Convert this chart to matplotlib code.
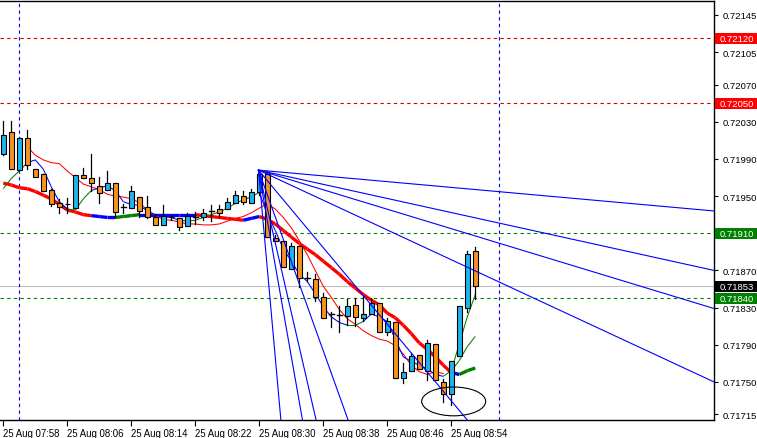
import matplotlib
matplotlib.use("Agg")
import matplotlib.pyplot as plt
import matplotlib.transforms as mtransforms
from matplotlib.patches import Rectangle, Ellipse

plt.rcParams['font.family'] = ['Liberation Sans', 'DejaVu Sans']

# one-minute bars, 25 Aug 07:58 .. 08:57
opens = [0.71995, 0.72019, 0.71978, 0.72012, 0.71979, 0.71974, 0.71957, 0.71943, 0.71942, 0.71937,
         0.71973, 0.71969, 0.71961, 0.71957, 0.71964, 0.71938, 0.71937, 0.71949, 0.71938, 0.71928,
         0.71919, 0.71928, 0.71926, 0.71918, 0.71927, 0.71928, 0.71934, 0.71936, 0.71936, 0.71943,
         0.71950, 0.71943, 0.71954, 0.71974, 0.71905, 0.71902, 0.71872, 0.71896, 0.71862, 0.71861,
         0.71841, 0.71823, 0.71822, 0.71821, 0.71833, 0.71819, 0.71823, 0.71835, 0.71804, 0.71815,
         0.71754, 0.71762, 0.71779, 0.71762, 0.71791, 0.71750, 0.71737, 0.71778, 0.71830, 0.71891]
highs = [0.72031, 0.72031, 0.72014, 0.72021, 0.71979, 0.71974, 0.71958, 0.71947, 0.71948, 0.71973,
         0.71980, 0.71995, 0.71971, 0.71977, 0.71964, 0.71941, 0.71961, 0.71949, 0.71950, 0.71931,
         0.71940, 0.71930, 0.71926, 0.71932, 0.71933, 0.71936, 0.71940, 0.71940, 0.71948, 0.71955,
         0.71955, 0.71958, 0.71977, 0.71977, 0.71908, 0.71902, 0.71899, 0.71896, 0.71868, 0.71866,
         0.71846, 0.71825, 0.71832, 0.71839, 0.71840, 0.71843, 0.71840, 0.71835, 0.71819, 0.71815,
         0.71770, 0.71781, 0.71779, 0.71795, 0.71791, 0.71753, 0.71773, 0.71832, 0.71891, 0.71895]
lows = [0.71994, 0.71979, 0.71977, 0.71979, 0.71971, 0.71956, 0.71939, 0.71932, 0.71932, 0.71937,
        0.71969, 0.71956, 0.71943, 0.71957, 0.71927, 0.71932, 0.71937, 0.71928, 0.71926, 0.71919,
        0.71919, 0.71924, 0.71913, 0.71918, 0.71920, 0.71924, 0.71923, 0.71928, 0.71936, 0.71943,
        0.71942, 0.71943, 0.71951, 0.71906, 0.71902, 0.71874, 0.71872, 0.71852, 0.71859, 0.71837,
        0.71819, 0.71809, 0.71804, 0.71811, 0.71810, 0.71816, 0.71823, 0.71804, 0.71801, 0.71754,
        0.71749, 0.71762, 0.71764, 0.71752, 0.71752, 0.71728, 0.71725, 0.71778, 0.71825, 0.71839]
closes = [0.72016, 0.71979, 0.72012, 0.71983, 0.71971, 0.71956, 0.71942, 0.71938, 0.71941, 0.71973,
          0.71969, 0.71964, 0.71953, 0.71964, 0.71933, 0.71938, 0.71955, 0.71934, 0.71927, 0.71919,
          0.71929, 0.71927, 0.71917, 0.71929, 0.71927, 0.71932, 0.71934, 0.71932, 0.71944, 0.71951,
          0.71944, 0.71954, 0.71974, 0.71906, 0.71902, 0.71874, 0.71896, 0.71862, 0.71862, 0.71841,
          0.71819, 0.71823, 0.71822, 0.71832, 0.71820, 0.71823, 0.71835, 0.71804, 0.71816, 0.71754,
          0.71761, 0.71778, 0.71764, 0.71792, 0.71752, 0.71737, 0.71773, 0.71832, 0.71888, 0.71853]

# slow MA (thick), colour of the segment ending at each bar: r=down, b=flat, g=up
slow_ma = [0.71964, 0.71962, 0.71959, 0.71958, 0.71955, 0.71951, 0.71947, 0.71941, 0.71935, 0.71933,
           0.71930, 0.71929, 0.71928, 0.71927, 0.71927, 0.71928, 0.71929, 0.71930, 0.71930, 0.71930,
           0.71930, 0.71930, 0.71930, 0.71930, 0.71930, 0.71929, 0.71928, 0.71927, 0.71926, 0.71925,
           0.71924, 0.71926, 0.71928, 0.71925, 0.71920, 0.71913, 0.71906, 0.71899, 0.71893, 0.71887,
           0.71880, 0.71873, 0.71866, 0.71858, 0.71851, 0.71844, 0.71838, 0.71833, 0.71824, 0.71819,
           0.71811, 0.71802, 0.71792, 0.71785, 0.71777, 0.71768, 0.71760, 0.71758, 0.71762, 0.71765]
slow_state = "rrrrrrrrrrrrbbbgggbbbbbbbrrrrrrbbrrrrrrrrrrrrrrrrrrrrrrrrbgg"

# mid MA (thin red), starts at bar 3 and ends at bar 55
mid_start = 3
mid_ma = [0.72003, 0.71994, 0.71989, 0.71986, 0.71985, 0.71977, 0.71970, 0.71963, 0.71960, 0.71957,
          0.71952, 0.71950, 0.71949, 0.71947, 0.71943, 0.71935, 0.71929, 0.71925, 0.71924, 0.71922,
          0.71920, 0.71920, 0.71919, 0.71919, 0.71920, 0.71923, 0.71926, 0.71928, 0.71932, 0.71937,
          0.71942, 0.71936, 0.71927, 0.71916, 0.71902, 0.71887, 0.71870, 0.71853, 0.71841, 0.71828,
          0.71818, 0.71812, 0.71805, 0.71800, 0.71796, 0.71794, 0.71789, 0.71780, 0.71768, 0.71761,
          0.71758, 0.71761, 0.71759]

# fast MA (thin), g=rising, b=falling
fast_ma = [0.71958, 0.71969, 0.71977, 0.71986, 0.71989, 0.71979, 0.71960, 0.71944, 0.71936, 0.71935,
           0.71947, 0.71956, 0.71959, 0.71961, 0.71956, 0.71944, 0.71941, 0.71940, 0.71934, 0.71930,
           0.71928, 0.71927, 0.71924, 0.71923, 0.71924, 0.71927, 0.71930, 0.71933, 0.71937, 0.71942,
           0.71946, 0.71949, 0.71954, 0.71931, 0.71913, 0.71893, 0.71880, 0.71866, 0.71858, 0.71845,
           0.71831, 0.71820, 0.71814, 0.71811, 0.71811, 0.71815, 0.71823, 0.71820, 0.71815, 0.71796,
           0.71777, 0.71772, 0.71768, 0.71764, 0.71758, 0.71756, 0.71762, 0.71773, 0.71788, 0.71799]
fast_state = "ggggbbbbbgggbbbbbbbbbbbbgggggggggbbbbbbbbbbbggbbbbbbbbbbgggg"

# very fast line, only the last bars
vfast_start = 56
vfast_ma = [0.71762, 0.71791, 0.71820, 0.71844]

# Gann fan: origin (bar, price) and points the rays pass through
fan_origin = (31.9, 0.71978)
fan_points = [(88.84, 0.71934), (88.84, 0.71870), (88.84, 0.71829), (88.84, 0.71750),
              (58.0, 0.71709), (43.1, 0.71709), (39.1, 0.71709), (37.4, 0.71709), (34.7, 0.71709)]

red_levels = [0.72120, 0.72050]
green_levels = [0.71910, 0.71840]
bid_price = 0.71853
vlines_bar = [2, 62]
ellipse_center = (56.3, 0.71729)
ellipse_size = (8.0, 0.00031)

time_ticks = [0, 8, 16, 24, 32, 40, 48, 56]
time_labels = ["25 Aug 07:58", "25 Aug 08:06", "25 Aug 08:14", "25 Aug 08:22",
               "25 Aug 08:30", "25 Aug 08:38", "25 Aug 08:46", "25 Aug 08:54"]
price_ticks = [0.72145, 0.72105, 0.72070, 0.72030, 0.71990, 0.71950, 0.71910,
               0.71870, 0.71830, 0.71790, 0.71750, 0.71715]

BULL = "#1eb4ec"
BEAR = "#f7931e"
ma_colors = {"r": "#ff0000", "b": "#0000ff", "g": "#008000"}

fig = plt.figure(figsize=(7.57, 4.39), dpi=100)
ax = fig.add_axes([0, 1 - 421 / 439, 714 / 757, 419 / 439])
ax.set_xlim(-0.41, 88.84)
ax.set_ylim(0.71709, 0.72160)

# levels
for lv in red_levels:
    ax.axhline(lv, color="#d00000", lw=0.8, dashes=(3, 3), zorder=1)
for lv in green_levels:
    ax.axhline(lv, color="#008000", lw=0.8, dashes=(3, 3), zorder=1)
ax.axhline(bid_price, color="#c0c0c0", lw=0.8, zorder=1)
for vb in vlines_bar:
    ax.axvline(vb, color="#0000ff", lw=0.8, dashes=(3, 3), zorder=1)

# indicators
def colored_line(start, values, states, lw):
    for i in range(1, len(values)):
        ax.plot([start + i - 1, start + i], [values[i - 1], values[i]],
                color=ma_colors[states[i]], lw=lw, solid_capstyle="butt", zorder=2)

colored_line(0, slow_ma, slow_state, 2.4)
ax.plot(range(mid_start, mid_start + len(mid_ma)), mid_ma, color="#ff0000", lw=0.75, zorder=2)
colored_line(0, fast_ma, fast_state, 0.75)
ax.plot(range(vfast_start, vfast_start + len(vfast_ma)), vfast_ma, color="#008000", lw=0.75, zorder=2)

# candles
body_w = 0.6
for i, (o, h, l, c) in enumerate(zip(opens, highs, lows, closes)):
    ax.plot([i, i], [l, h], color="black", lw=0.9, zorder=3)
    if c == o:
        ax.plot([i - body_w / 2, i + body_w / 2], [o, o], color="black", lw=1.0, zorder=4)
        continue
    face = BULL if c > o else BEAR
    ax.add_patch(Rectangle((i - body_w / 2, min(o, c)), body_w, abs(c - o),
                           facecolor=face, edgecolor="black", lw=0.8, zorder=4))

# Gann fan
ox, oy = fan_origin
for px, py in fan_points:
    ex = ox + 3 * (px - ox)
    ey = oy + 3 * (py - oy)
    ax.plot([ox, ex], [oy, ey], color="#0000ff", lw=0.8, zorder=5)

ax.add_patch(Ellipse(ellipse_center, ellipse_size[0], ellipse_size[1],
                     facecolor="none", edgecolor="black", lw=0.8, zorder=6))

# axes styling
for side in ["top", "right", "bottom"]:
    ax.spines[side].set_color("black")
    ax.spines[side].set_linewidth(1.0)
ax.spines["left"].set_visible(False)

ax.yaxis.tick_right()
ax.set_yticks(price_ticks)
# the 0.71910 label sits under the green level tag
ax.set_yticklabels(["" if p in green_levels else "%.5f" % p for p in price_ticks])
ax.tick_params(axis="y", length=3, width=0.8, pad=3, labelsize=6.8, colors="black")
ax.set_xticks(time_ticks)
ax.set_xticklabels(time_labels)
ax.tick_params(axis="x", length=4, width=0.8, pad=2, labelsize=6.9)
for lbl in ax.get_xticklabels():
    lbl.set_horizontalalignment("left")

# price tags on the right scale, filled to the figure edge
trans = mtransforms.blended_transform_factory(ax.transAxes, ax.transData)
tag_h = 0.000115
tags = [(red_levels[0], "#ff0000"), (red_levels[1], "#ff0000"),
        (green_levels[0], "#008000"), (bid_price, "black"),
        (green_levels[1], "#008000")]
for price, bg in tags:
    ax.add_patch(Rectangle((1.002, price - tag_h / 2), 0.062, tag_h, transform=trans,
                           facecolor=bg, edgecolor="none", clip_on=False, zorder=9))
    ax.text(1.0075, price, "%.5f" % price, transform=trans, ha="left", va="center",
            fontsize=6.8, color="white", clip_on=False, zorder=10)

fig.savefig("out.png", dpi=100)
